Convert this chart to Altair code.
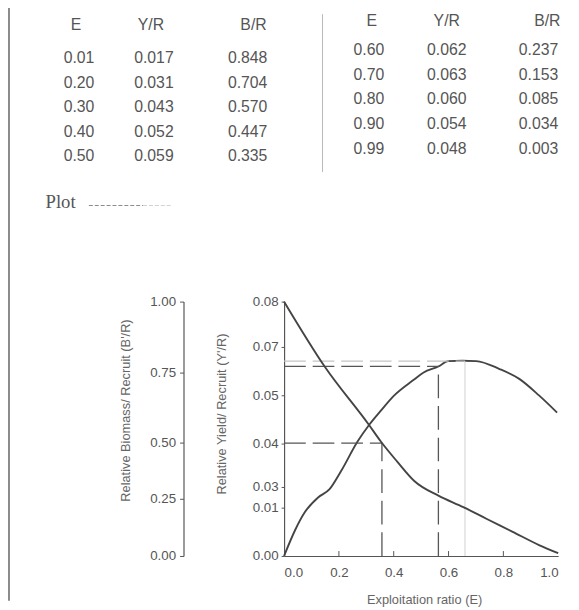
import json
import altair as alt
import pandas as pd

# ---------------- data ----------------
TABLE_HEADERS = ["E", "Y/R", "B/R"]
E_LEFT = [0.01, 0.20, 0.30, 0.40, 0.50]
YR_LEFT = [0.017, 0.031, 0.043, 0.052, 0.059]
BR_LEFT = [0.848, 0.704, 0.570, 0.447, 0.335]
E_RIGHT = [0.60, 0.70, 0.80, 0.90, 0.99]
YR_RIGHT = [0.062, 0.063, 0.060, 0.054, 0.048]
BR_RIGHT = [0.237, 0.153, 0.085, 0.034, 0.003]

# Relative yield per recruit curve (Y'/R)
YIELD_E = [0.0, 0.040, 0.076, 0.124, 0.166, 0.208, 0.268, 0.310, 0.354, 0.402,
           0.473, 0.509, 0.563, 0.599, 0.650, 0.701, 0.786, 0.858, 0.930, 0.996]
YIELD_VALUES = [0.0, 0.0081, 0.0138, 0.0184, 0.0210, 0.0267, 0.0360, 0.0412, 0.0458, 0.0505,
                0.0554, 0.0577, 0.0596, 0.0613, 0.0614, 0.0613, 0.0588, 0.0557, 0.0505, 0.0451]

# Relative biomass per recruit curve (B'/R)
BIOMASS_E = [0.0, 0.148, 0.310, 0.353, 0.412, 0.475, 0.563, 0.654, 0.738, 0.834, 0.930, 1.0]
BIOMASS_VALUES = [1.0, 0.745, 0.515, 0.450, 0.372, 0.295, 0.237, 0.192, 0.1465, 0.095, 0.043, 0.011]

# Reference (drop) lines: E50, E10, Emax
GUIDE_E = [0.357, 0.563, 0.660]
GUIDE_Y = [0.0355, 0.0596, 0.0613]
GUIDE_STYLE = ["dark", "dark", "light"]

X_TICKS = [0.0, 0.2, 0.4, 0.6, 0.8, 1.0]
X_INNER_TICKS = [0.2, 0.4, 0.6, 0.8]
Y_TICK_VALUES = [0.0, 0.0153, 0.0218, 0.0355, 0.0505, 0.0658, 0.08]
Y_TICK_LABELS = ["0.00", "0.01", "0.03", "0.04", "0.05", "0.07", "0.08"]
B_TICK_VALUES = [0.0, 0.224, 0.444, 0.722, 1.0]
B_TICK_LABELS = ["0.00", "0.25", "0.50", "0.75", "1.00"]

# ---------------- layout / style ----------------
X0, Y0 = 288.0, 301.5          # page position of the plot origin
W, H = 278, 258
FONT = "Liberation Sans"
TXT = "#555555"
LINE = "#444444"


def px(x):
    return x - X0


def py(y):
    return y - Y0


def label_expr(values, labels):
    return f"{json.dumps(labels)}[indexof({json.dumps(values)}, datum.value)]"


one = pd.DataFrame({"a": [0]})

# ---------------- main plot ----------------
yield_df = pd.DataFrame({"E": YIELD_E, "Y": YIELD_VALUES})
bio_df = pd.DataFrame({"E": BIOMASS_E, "B": BIOMASS_VALUES})
guides = pd.DataFrame({"E": GUIDE_E, "Y": GUIDE_Y, "style": GUIDE_STYLE,
                       "E0": [0.0] * 3, "Y0": [0.0] * 3})

x_enc = alt.X("E:Q", scale=alt.Scale(domain=[0, 1], nice=False, zero=False),
              axis=alt.Axis(values=X_TICKS, format=".1f", ticks=False, tickSize=0,
                            labelPadding=10, title="Exploitation ratio (E)",
                            titleX=142, titleY=44, titleAlign="center",
                            titleBaseline="middle", grid=False))
y_scale = alt.Scale(domain=[0, 0.08], nice=False, zero=True)
y_axis = alt.Axis(values=Y_TICK_VALUES, labelExpr=label_expr(Y_TICK_VALUES, Y_TICK_LABELS),
                  tickSize=3, labelPadding=3, labelOverlap=False,
                  title="Relative Yield/ Recruit (Y'/R)", titleX=-63, titleY=113.5,
                  titleAngle=270, titleAlign="center", titleBaseline="middle", grid=False)

yield_line = alt.Chart(yield_df).mark_line(color=LINE, strokeWidth=1.9,
                                           interpolate="monotone").encode(
    x=x_enc, y=alt.Y("Y:Q", scale=y_scale, axis=y_axis))

h_dark = alt.Chart(guides).transform_filter("datum.style == 'dark'").mark_rule(
    color="#555555", strokeWidth=1.3, strokeDash=[22, 7]).encode(
    x=alt.X("E0:Q"), x2="E:Q", y=alt.Y("Y:Q"))
v_dark = alt.Chart(guides).transform_filter("datum.style == 'dark'").mark_rule(
    color="#555555", strokeWidth=1.3, strokeDash=[24, 8]).encode(
    x=alt.X("E:Q"), y=alt.Y("Y0:Q"), y2="Y:Q")
h_light = alt.Chart(guides).transform_filter("datum.style == 'light'").mark_rule(
    color="#c4c4c4", strokeWidth=1.2, strokeDash=[22, 7]).encode(
    x=alt.X("E0:Q"), x2="E:Q", y=alt.Y("Y:Q"))
v_light = alt.Chart(guides).transform_filter("datum.style == 'light'").mark_rule(
    color="#d0d0d0", strokeWidth=1.0).encode(
    x=alt.X("E:Q"), y=alt.Y("Y0:Q"), y2="Y:Q")
inner_ticks = alt.Chart(pd.DataFrame({"E": X_INNER_TICKS})).mark_rule(
    color="#555555", strokeWidth=1).encode(
    x=alt.X("E:Q"), y=alt.value(H), y2=alt.value(H - 5))

main = alt.layer(yield_line, h_dark, v_dark, h_light, v_light, inner_ticks)

bio_line = alt.Chart(bio_df).mark_line(color=LINE, strokeWidth=1.9,
                                       interpolate="monotone").encode(
    x=alt.X("E:Q"),
    y=alt.Y("B:Q", scale=alt.Scale(domain=[0, 1], nice=False),
            axis=alt.Axis(orient="left", offset=102, values=B_TICK_VALUES,
                          labelExpr=label_expr(B_TICK_VALUES, B_TICK_LABELS),
                          tickSize=4, labelPadding=4, labelOverlap=False,
                          title="Relative Biomass/ Recruit (B'/R)", titleX=-59, titleY=110,
                          titleAngle=270, titleAlign="center", titleBaseline="middle",
                          grid=False)))

# ---------------- table ----------------
table_layers = []


def table_column(values, fmt, cx, r0, r1):
    df = pd.DataFrame({"row": list(range(len(values))), "v": values})
    return alt.Chart(df).mark_text(font=FONT, fontSize=16, color=TXT,
                                   align="center", baseline="middle").encode(
        x=alt.value(px(cx)),
        y=alt.Y("row:O", scale=alt.Scale(type="point", domain=list(range(len(values))),
                                         range=[py(r0), py(r1)], padding=0), axis=None),
        text=alt.Text("v:Q", format=fmt))


def header(text, cx, cy):
    return alt.Chart(one).mark_text(text=text, font=FONT, fontSize=16, color=TXT,
                                    align="center", baseline="middle").encode(
        x=alt.value(px(cx)), y=alt.value(py(cy)))


# left half
table_layers += [table_column(E_LEFT, ".2f", 80, 55, 154),
                 table_column(YR_LEFT, ".3f", 156, 55, 154),
                 table_column(BR_LEFT, ".3f", 251, 55, 154)]
table_layers += [header(h, cx, 21) for h, cx in zip(TABLE_HEADERS, [77, 153, 257])]
# right half
table_layers += [table_column(E_RIGHT, ".2f", 374, 46, 147),
                 table_column(YR_RIGHT, ".3f", 453, 46, 147),
                 table_column(BR_RIGHT, ".3f", 546, 46, 147)]
table_layers += [header(h, cx, 17) for h, cx in zip(TABLE_HEADERS, [377, 453, 555])]

separator = alt.Chart(one).mark_rule(color="#b8b8b8", strokeWidth=1).encode(
    x=alt.value(px(327)), y=alt.value(py(10)), y2=alt.value(py(170)))
edge = alt.Chart(one).mark_rule(color="#8a8a8a", strokeWidth=2).encode(
    x=alt.value(px(9)), y=alt.value(py(0)), y2=alt.value(py(605)))

plot_word = alt.Chart(one).mark_text(text="Plot", font="Liberation Serif", fontSize=19,
                                     color=TXT, align="left", baseline="middle").encode(
    x=alt.value(px(46)), y=alt.value(py(201)))
plot_dash1 = alt.Chart(one).mark_rule(color="#8c8c8c", strokeWidth=1.2,
                                      strokeDash=[4, 2]).encode(
    x=alt.value(px(90)), x2=alt.value(px(145)), y=alt.value(py(204)))
plot_dash2 = alt.Chart(one).mark_rule(color="#d2d2d2", strokeWidth=1.2,
                                      strokeDash=[4, 2]).encode(
    x=alt.value(px(145)), x2=alt.value(px(174)), y=alt.value(py(204)))

chart = alt.layer(main, bio_line, *table_layers, separator, edge,
                  plot_word, plot_dash1, plot_dash2).resolve_scale(
    y="independent"
).properties(
    width=W, height=H,
    autosize=alt.AutoSizeParams(type="none"),
    padding={"left": X0 - 8, "top": Y0 - 8, "right": 571 - (X0 - 8) - W, "bottom": 50},
    background="white",
).configure_view(stroke=None).configure_axis(
    labelFont=FONT, labelFontSize=13.5, labelColor=TXT,
    titleFont=FONT, titleFontSize=13, titleColor="#666666", titleFontWeight="normal",
    domainColor="#555555", tickColor="#555555", domainWidth=1.2,
)

chart.save("out.html", embed_options={"renderer": "svg", "actions": False})
